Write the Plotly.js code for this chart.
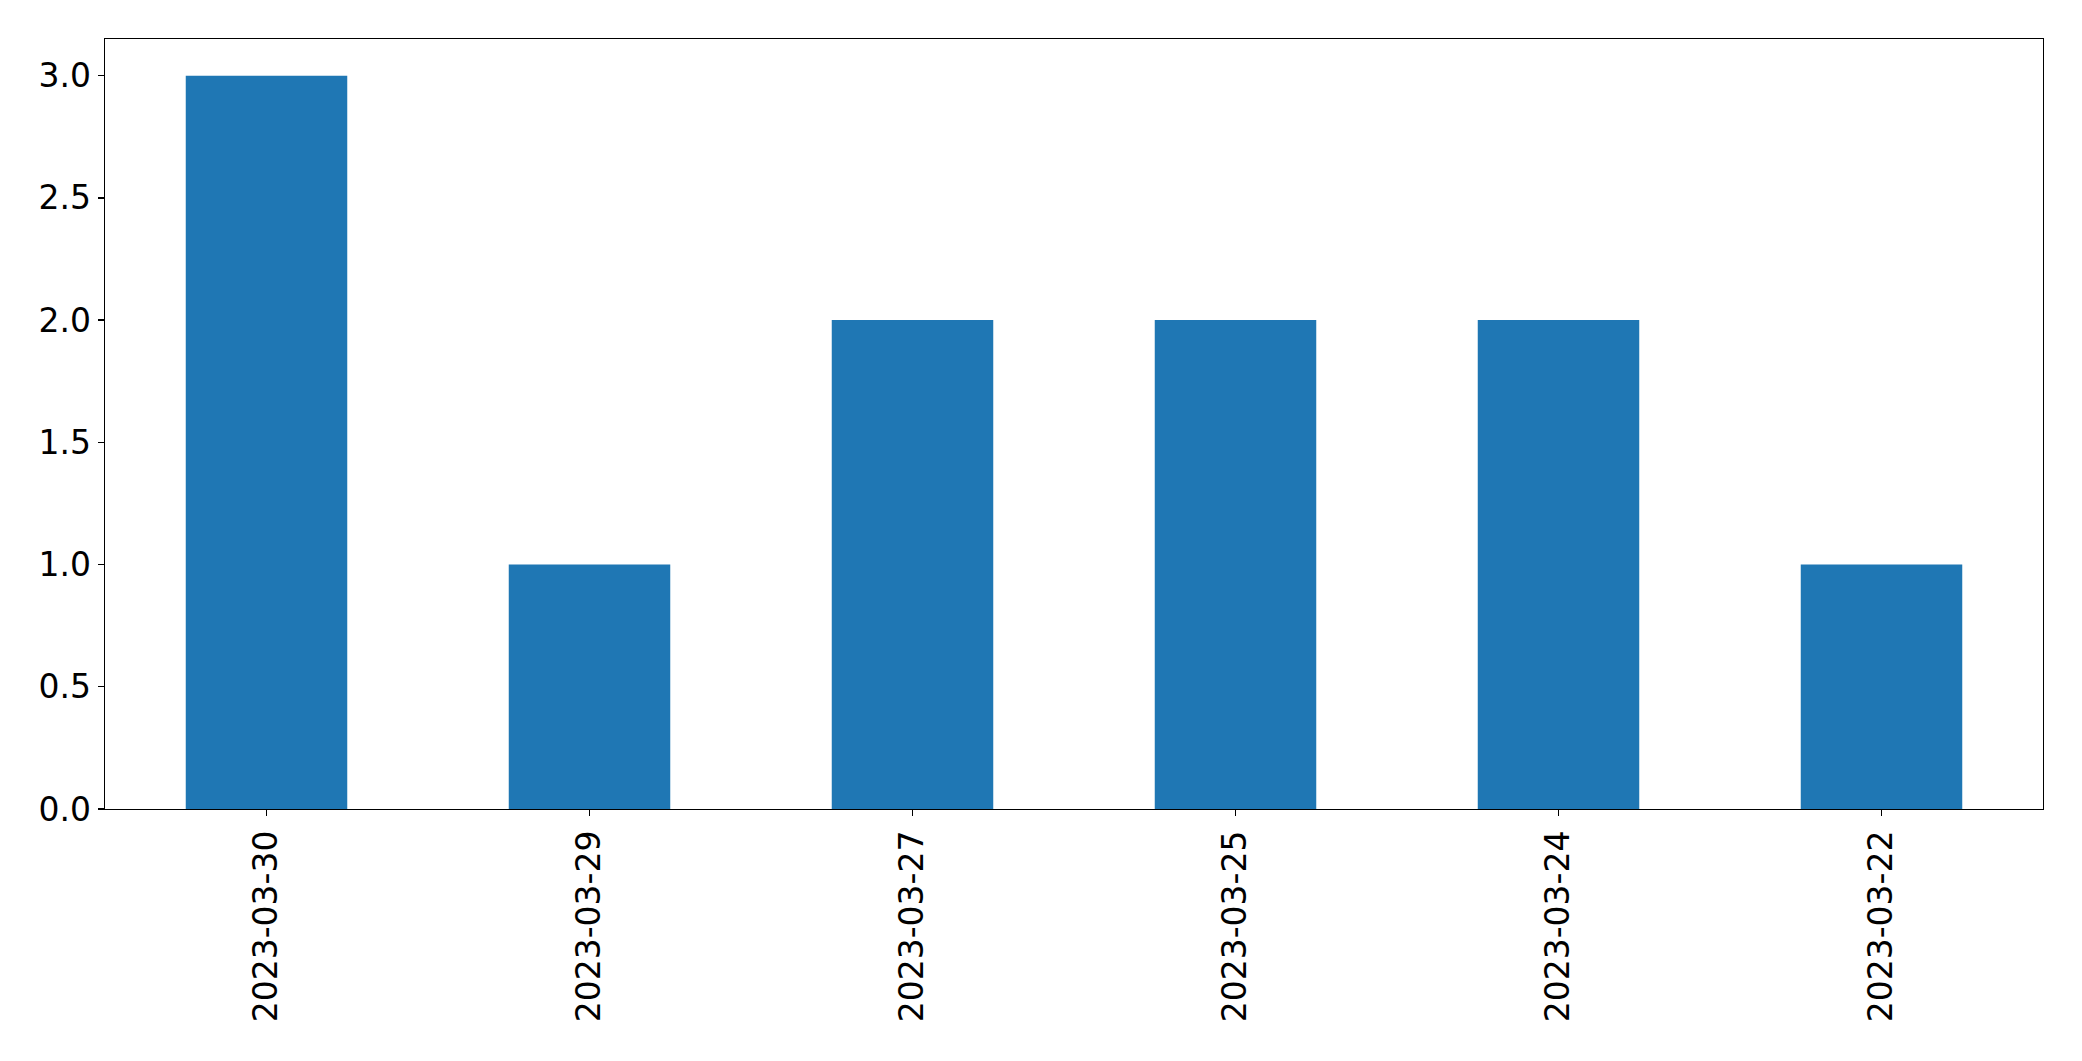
<!DOCTYPE html>
<html>
<head>
<meta charset="utf-8">
<script src="https://cdn.plot.ly/plotly-3.0.1.min.js"></script>
<style>html,body{margin:0;padding:0;background:#fff;}#chart{width:2082px;height:1061px;}</style>
</head>
<body>
<div id="chart"></div>
<script>
const categories = ["2023-03-30", "2023-03-29", "2023-03-27", "2023-03-25", "2023-03-24", "2023-03-22"];
const counts = [3, 1, 2, 2, 2, 1];
const yTicks = [0, 0.5, 1, 1.5, 2, 2.5, 3];
const yTickLabels = ["0.0", "0.5", "1.0", "1.5", "2.0", "2.5", "3.0"];

const trace = {
  type: "bar",
  x: categories,
  y: counts,
  width: 0.5,
  marker: {color: "#1f77b4", line: {width: 0}},
  hoverinfo: "skip"
};

const axisCommon = {
  showline: true, mirror: true, linecolor: "#000", linewidth: 1.3,
  showgrid: false, zeroline: false,
  ticks: "outside", ticklen: 6, tickwidth: 1.3, tickcolor: "#000",
  tickfont: {family: "DejaVu Sans", size: 33, color: "#000"}
};

const layout = {
  width: 2082, height: 1061,
  margin: {l: 105, r: 39, t: 39, b: 252, pad: 0},
  paper_bgcolor: "#fff", plot_bgcolor: "#fff",
  showlegend: false,
  font: {family: "DejaVu Sans", size: 33, color: "#000"},
  xaxis: Object.assign({}, axisCommon, {
    type: "category", range: [-0.5, 5.5], tickangle: -90,
    ticklabelstandoff: 1
  }),
  yaxis: Object.assign({}, axisCommon, {
    range: [0, 3.15], tickmode: "array", tickvals: yTicks, ticktext: yTickLabels,
    ticklabelstandoff: 0
  })
};

Plotly.newPlot("chart", [trace], layout, {displayModeBar: false, staticPlot: true});
</script>
</body>
</html>
